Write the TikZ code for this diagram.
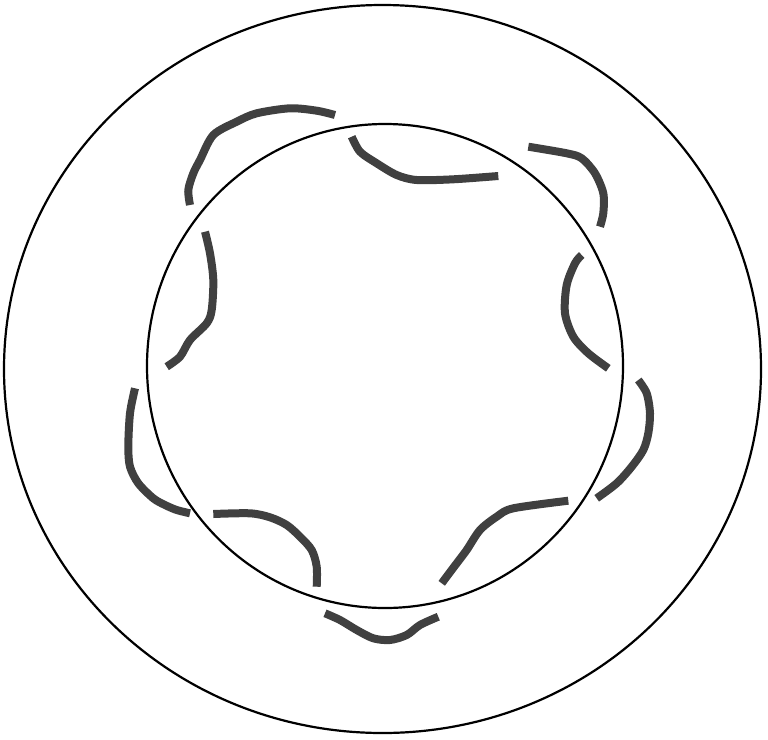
\documentclass[tikz,border=0pt]{standalone}
\begin{document}
\begin{tikzpicture}[x=1pt,y=-1pt,
  ring/.style={draw=black,line width=2.2pt},
  wave/.style={draw={rgb,255:red,64;green,64;blue,64},line width=8pt,line join=round}]
\useasboundingbox (0,0) rectangle (768,739);
\path[ring] (382.5,369) ellipse [x radius=378.5pt, y radius=364pt];
\path[ring] (385,366) ellipse [x radius=238pt, y radius=242pt];
% A top-left outside
\path[wave] plot[smooth,tension=0.5] coordinates {(190,205) (188.3,190) (193.3,173.3) (200,160) (213.3,135) (236.7,121.7) (256.7,113.3) (290,108.3) (316.7,110.7) (335,115)};
% B top inside
\path[wave] plot[smooth,tension=0.5] coordinates {(351.7,136.7) (360,151.7) (376.7,163.3) (396.7,175) (416.7,180) (453.3,179.3) (498.3,176)};
% C top-right outside
\path[wave] plot[smooth,tension=0.5] coordinates {(528.3,146.7) (566.7,153.3) (581.7,158.3) (595,173.3) (603.3,193.3) (603.3,213.3) (600,226.7)};
% D right inside
\path[wave] plot[smooth,tension=0.5] coordinates {(581.7,255) (575,263.3) (566.7,285) (565,313.3) (573.3,336.7) (588.3,353.3) (608.3,368.3)};
% E right outside
\path[wave] plot[smooth,tension=0.5] coordinates {(638.3,380) (646.7,393.3) (650,413.3) (648.3,433.3) (643.3,450) (631.7,466.7) (616.7,483.3) (596.7,498.3)};
% F bottom-right inside
\path[wave] plot[smooth,tension=0.5] coordinates {(568.3,500.7) (513.3,508.3) (496.7,516.7) (480,530) (466.7,550) (456.7,563.3) (441.7,583.3)};
% G bottom outside
\path[wave] plot[smooth,tension=0.5] coordinates {(325,613.3) (340,620) (356.7,630) (373.3,638.3) (390,640) (406.7,635) (420,625) (438.3,616.7)};
% H bottom-left inside
\path[wave] plot[smooth,tension=0.5] coordinates {(213.3,514) (250,513.3) (270,517.3) (286.7,525) (300,536.7) (311.7,550) (316.7,566.7) (316.7,586.7)};
% I left inside
\path[wave] plot[smooth,tension=0.5] coordinates {(205,231.7) (210,253.3) (213.3,280) (211.7,310) (206.7,323.3) (190,340) (180,356.7) (166.7,366.7)};
% J left outside
\path[wave] plot[smooth,tension=0.5] coordinates {(135,388.3) (130,413.3) (128.3,446.7) (130,466.7) (138.3,483.3) (153.3,498.3) (165,505) (176.7,510) (190,513.3)};
\end{tikzpicture}
\end{document}
